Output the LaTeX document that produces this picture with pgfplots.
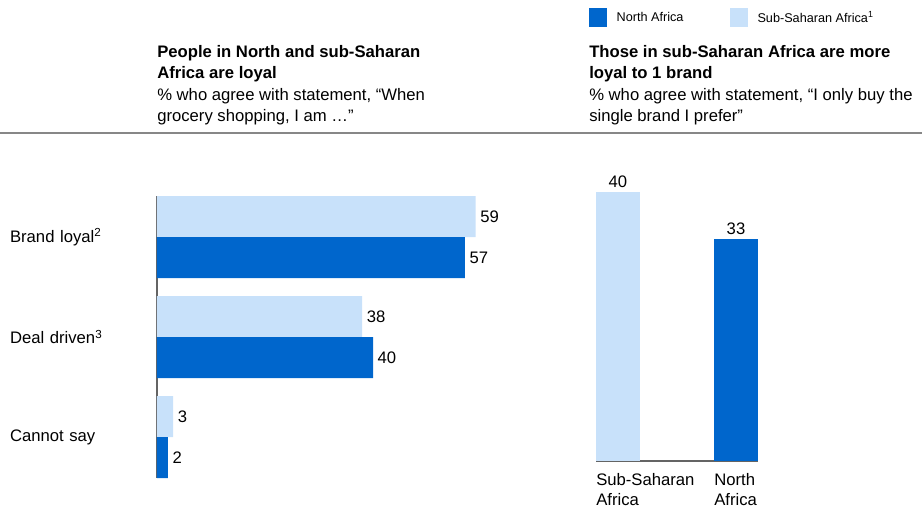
\documentclass[border=0pt]{standalone}
\usepackage{pgfplots}
\pgfplotsset{compat=1.18}
\usepackage{fontspec}
\setmainfont{Liberation Sans}

\definecolor{naBlue}{RGB}{0,102,204}
\definecolor{ssaBlue}{RGB}{200,225,250}
\definecolor{ruleGray}{RGB}{135,135,135}
\definecolor{axisGray}{RGB}{100,100,100}
\newcommand{\mainsize}{\fontsize{12.5}{15}\selectfont}

\begin{document}
\begin{tikzpicture}
\path[use as bounding box] (0,0) rectangle (691.5pt,-381pt);

% headers
\begin{scope}[every node/.style={anchor=base west, inner sep=0pt, font=\mainsize}]
  \node[font=\mainsize\bfseries] at (117.75pt,-42.75pt) {People in North and sub-Saharan};
  \node[font=\mainsize\bfseries] at (117.75pt,-58.9pt) {Africa are loyal};
  \node at (117.75pt,-75pt) {\% who agree with statement, “When};
  \node at (117.75pt,-91.1pt) {grocery shopping, I am …”};
  \node[font=\mainsize\bfseries] at (441.75pt,-42.75pt) {Those in sub-Saharan Africa are more};
  \node[font=\mainsize\bfseries] at (441.75pt,-58.9pt) {loyal to 1 brand};
  \node at (441.75pt,-75pt) {\% who agree with statement, “I only buy the};
  \node at (441.75pt,-91.1pt) {single brand I prefer”};
\end{scope}
\draw[ruleGray, line width=1.1pt] (0,-99.75pt) -- (691.5pt,-99.75pt);

% left: grocery shopping attitude
\begin{axis}[
    at={(117.75pt,-147pt)}, anchor=north west,
    scale only axis, width=243pt, height=211.5pt,
    xbar, bar width=0.41,
    xmin=0, xmax=60, ymin=-0.41, ymax=2.41, y dir=reverse,
    axis x line=none, axis y line=left,
    axis line style={-, draw=axisGray, line width=1.1pt},
    ytick={0,1,2},
    yticklabels={Brand loyal\textsuperscript{2}, Deal driven\textsuperscript{3}, Cannot say},
    major tick length=0pt,
    yticklabel style={text width=110pt, align=left, inner sep=0pt, font=\mainsize},
    nodes near coords,
    nodes near coords style={font=\mainsize, black},
    /pgf/number format/assume math mode=true,
    clip=false,
  ]
  \addplot[fill=ssaBlue, draw=none, bar shift=-0.205] coordinates {(59,0) (38,1) (3,2)};
  \addplot[fill=naBlue, draw=none, bar shift=0.205] coordinates {(57,0) (40,1) (2,2)};
\end{axis}

% right: single brand buyers
\begin{axis}[
    at={(447pt,-345.75pt)}, anchor=south west,
    scale only axis, width=121.5pt, height=201.75pt,
    ybar, bar width=0.3729,
    xmin=-0.1864, xmax=1.1864, ymin=0, ymax=40,
    axis y line=none, axis x line=bottom,
    axis line style={-, draw=axisGray, line width=0.8pt},
    xtick={0,1},
    xticklabels={{Sub-Saharan\\Africa},{North\\Africa}},
    major tick length=0pt,
    xticklabel style={anchor=north west, align=left, inner sep=0pt,
      xshift=-16.5pt, yshift=-9pt, font=\mainsize},
    nodes near coords,
    nodes near coords style={font=\mainsize, black},
    /pgf/number format/assume math mode=true,
    clip=false,
    legend image code/.code={\fill[#1] (0pt,-7.1pt) rectangle (13.5pt,7.1pt);},
    legend style={at={(axis description cs:-0.043,1.684)}, anchor=north west,
      draw=none, fill=none, inner sep=0pt, font=\fontsize{9.5}{11}\selectfont,
      /tikz/every odd column/.append style={column sep=5pt},
      /tikz/every even column/.append style={column sep=33pt}},
    legend columns=2,
    legend cell align=left,
  ]
  \addplot[fill=naBlue, draw=none, bar shift=0] coordinates {(1,33)};
  \addplot[fill=ssaBlue, draw=none, bar shift=0] coordinates {(0,40)};
  \legend{North Africa, Sub-Saharan Africa\textsuperscript{1}}
\end{axis}
\end{tikzpicture}
\end{document}
